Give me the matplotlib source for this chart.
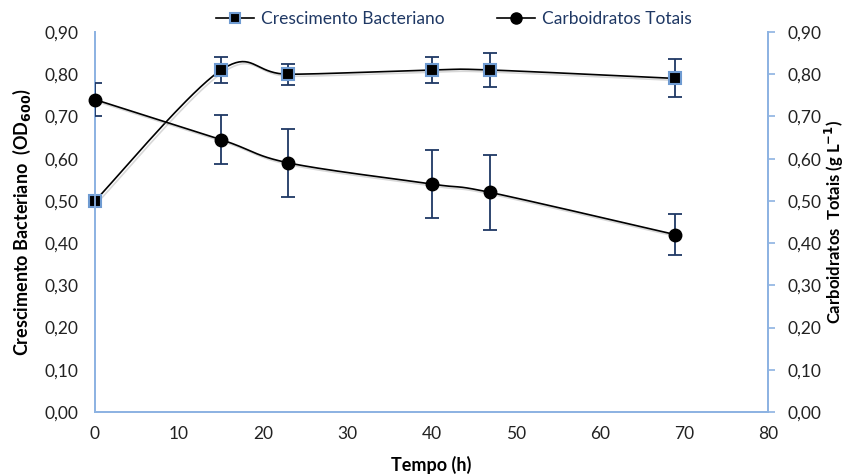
import numpy as np
import matplotlib
matplotlib.use("Agg")
import matplotlib.pyplot as plt
from matplotlib.ticker import FuncFormatter
import matplotlib.patheffects as pe
from matplotlib.lines import Line2D

plt.rcParams['font.family'] = ['Lato', 'DejaVu Sans']

tempo = [0, 15, 23, 40, 47, 69]
crescimento = [0.50, 0.81, 0.80, 0.81, 0.81, 0.79]
crescimento_err = [0.0, 0.03, 0.025, 0.03, 0.04, 0.045]
carboidratos = [0.74, 0.645, 0.59, 0.54, 0.52, 0.42]
carboidratos_err = [0.04, 0.058, 0.08, 0.08, 0.088, 0.049]

yticks = [0.0, 0.1, 0.2, 0.3, 0.4, 0.5, 0.6, 0.7, 0.8, 0.9]
xticks = [0, 10, 20, 30, 40, 50, 60, 70, 80]


def smooth(x, y, n=40):
    x = np.asarray(x, float); y = np.asarray(y, float)
    px = np.concatenate([[x[0]], x, [x[-1]]])
    py = np.concatenate([[y[0]], y, [y[-1]]])
    ox, oy = [], []
    for i in range(1, len(px) - 2):
        p0 = np.array([px[i - 1], py[i - 1]]); p1 = np.array([px[i], py[i]])
        p2 = np.array([px[i + 1], py[i + 1]]); p3 = np.array([px[i + 2], py[i + 2]])
        c1 = p1 + (p2 - p0) / 6.0
        c2 = p2 - (p3 - p1) / 6.0
        t = np.linspace(0, 1, n)[:, None]
        b = (1 - t) ** 3 * p1 + 3 * (1 - t) ** 2 * t * c1 + 3 * (1 - t) * t ** 2 * c2 + t ** 3 * p2
        ox.extend(b[:, 0]); oy.extend(b[:, 1])
    return np.array(ox), np.array(oy)


fig = plt.figure(figsize=(8.48, 4.76), dpi=100)
ax = fig.add_axes([95 / 848, 64 / 476, 673 / 848, 380 / 476])
ax2 = ax.twinx()

axis_col = '#8DB3E2'
err_col = '#1F3864'
shadow = [pe.SimpleLineShadow(offset=(1.5, -1.5), shadow_color='gray', alpha=0.3), pe.Normal()]

sx, sy = smooth(tempo, crescimento)
ax.plot(sx, sy, color='black', lw=1.2, path_effects=shadow, zorder=3)
ax.errorbar(tempo[1:], crescimento[1:], yerr=crescimento_err[1:], fmt='none',
            ecolor=err_col, elinewidth=1.3, capsize=5, capthick=1.3, zorder=4)
ax.plot(tempo, crescimento, ls='none', marker='s', ms=8, mfc='black', mec='#6F9BD1',
        mew=1.5, zorder=5, clip_on=False)

cx, cy = smooth(tempo, carboidratos)
ax2.plot(cx, cy, color='black', lw=1.2, path_effects=shadow, zorder=3)
ax2.errorbar(tempo, carboidratos, yerr=carboidratos_err, fmt='none',
             ecolor=err_col, elinewidth=1.3, capsize=5, capthick=1.3, zorder=4)
ax2.plot(tempo, carboidratos, ls='none', marker='o', ms=9, mfc='black', mec='black',
         zorder=5, clip_on=False)

fmt = FuncFormatter(lambda v, p: f"{v:.2f}".replace('.', ','))
for a in (ax, ax2):
    a.set_ylim(0, 0.9)
    a.set_yticks(yticks)
    a.yaxis.set_major_formatter(fmt)
    a.spines['top'].set_visible(False)
    for s in ('left', 'right', 'bottom'):
        a.spines[s].set_color(axis_col)
        a.spines[s].set_linewidth(1.3)
    a.tick_params(labelsize=12.5, colors='#222222')

ax.set_xlim(0, 80)
ax.set_xticks(xticks)
ax.tick_params(axis='x', length=0, pad=10)
ax.tick_params(axis='y', length=0, pad=12)
ax2.tick_params(axis='y', length=5, color=axis_col, width=1.2, pad=9)

ax.set_xlabel('Tempo (h)', fontsize=13, fontweight='bold', labelpad=10)
ax.set_ylabel('Crescimento Bacteriano  (OD$_{\\mathbf{600}}$)', fontsize=13, fontweight='bold', labelpad=8)
ax2.set_ylabel('Carboidratos  Totais (g L$^{\\mathbf{-1}}$)', fontsize=12, fontweight='bold', labelpad=1)

h1 = Line2D([], [], color='black', lw=1.2, marker='s', ms=7, mfc='black', mec='#6F9BD1', mew=1.5)
h2 = Line2D([], [], color='black', lw=1.2, marker='o', ms=8, mfc='black', mec='black')
leg = fig.legend([h1, h2], ['Crescimento Bacteriano', 'Carboidratos Totais'], loc='upper center',
                 bbox_to_anchor=(0.535, 1.01), ncol=2, frameon=False, fontsize=12.5,
                 handlelength=2.2, columnspacing=3.0, handletextpad=0.4)
for t in leg.get_texts():
    t.set_color('#1F3864')

fig.savefig('out.png', dpi=100)
